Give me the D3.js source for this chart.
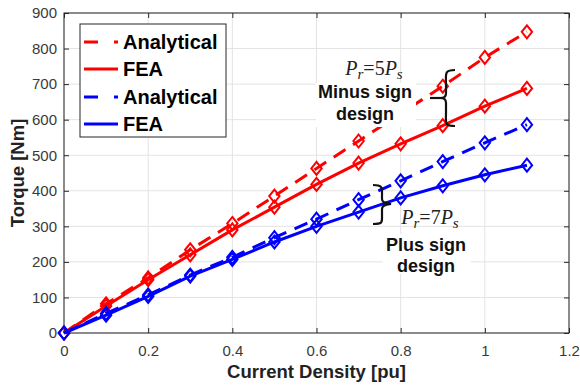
<!DOCTYPE html>
<html><head><meta charset="utf-8">
<script src="https://cdn.jsdelivr.net/npm/d3@7"></script>
<style>body{margin:0;background:#fff;}svg{display:block;}</style>
</head><body>
<svg id="c" width="580" height="385"></svg>
<script>
const xVals = [0, 0.1, 0.2, 0.3, 0.4, 0.5, 0.6, 0.7, 0.8, 0.9, 1.0, 1.1];
const redAnalytical = [0, 82, 155, 234, 308, 385, 463, 540, 617, 694, 775, 847];
const redFEA = [0, 76, 150, 220, 290, 354, 418, 478, 532, 583, 638, 688];
const blueAnalytical = [0, 55, 107, 163, 213, 268, 320, 375, 428, 482, 535, 586];
const blueFEA = [0, 50, 103, 160, 207, 256, 300, 340, 380, 414, 445, 472];
const xTicks = [0, 0.2, 0.4, 0.6, 0.8, 1, 1.2];
const yTicks = [0, 100, 200, 300, 400, 500, 600, 700, 800, 900];
const legendLabels = ["Analytical", "FEA", "Analytical", "FEA"];

const svg = d3.select("#c");
const L = 64, R = 569, T = 13, B = 333;
const x = d3.scaleLinear().domain([0, 1.2]).range([L, R]);
const y = d3.scaleLinear().domain([0, 900]).range([B, T]);
const axisCol = "#262626";

// grid
const g = svg.append("g");
g.selectAll(".gx").data(xTicks).enter().append("line")
  .attr("x1", d => x(d)).attr("x2", d => x(d)).attr("y1", T).attr("y2", B)
  .attr("stroke", "#e3e3e3").attr("stroke-width", 1);
g.selectAll(".gy").data(yTicks).enter().append("line")
  .attr("x1", L).attr("x2", R).attr("y1", d => y(d)).attr("y2", d => y(d))
  .attr("stroke", "#e3e3e3").attr("stroke-width", 1);

// axes
const ax = svg.append("g").attr("transform", `translate(0,${B})`)
  .call(d3.axisBottom(x).tickValues(xTicks).tickFormat(d => String(d)).tickSizeInner(-5).tickSizeOuter(0).tickPadding(12));
const ay = svg.append("g").attr("transform", `translate(${L},0)`)
  .call(d3.axisLeft(y).tickValues(yTicks).tickSizeInner(-5).tickSizeOuter(0).tickPadding(7));
const axTop = svg.append("g").attr("transform", `translate(0,${T})`)
  .call(d3.axisTop(x).tickValues(xTicks).tickFormat("").tickSizeInner(-5).tickSizeOuter(0));
const ayR = svg.append("g").attr("transform", `translate(${R},0)`)
  .call(d3.axisRight(y).tickValues(yTicks).tickFormat("").tickSizeInner(-5).tickSizeOuter(0));
[ax, ay, axTop, ayR].forEach(a => {
  a.select(".domain").remove();
  a.selectAll("line").attr("stroke", axisCol);
  a.selectAll("text").attr("fill", "#3a3a3a").style("font-family", "Liberation Sans, Arial, sans-serif").style("font-size", "15px");
});
svg.append("rect").attr("x", L).attr("y", T).attr("width", R - L).attr("height", B - T)
  .attr("fill", "none").attr("stroke", axisCol).attr("stroke-width", 1);

// series
const series = [
  {vals: redAnalytical, color: "#ff0000", dash: "14,9"},
  {vals: redFEA, color: "#ff0000", dash: null},
  {vals: blueAnalytical, color: "#0000ff", dash: "14,9"},
  {vals: blueFEA, color: "#0000ff", dash: null}
];
const line = d3.line().x(d => x(d[0])).y(d => y(d[1]));
const diamond = (cx, cy, s) => `M${cx},${cy - s}L${cx + s * 0.8},${cy}L${cx},${cy + s}L${cx - s * 0.8},${cy}Z`;
series.forEach(s => {
  const pts = xVals.map((xv, i) => [xv, s.vals[i]]);
  svg.append("path").attr("d", line(pts)).attr("fill", "none")
    .attr("stroke", s.color).attr("stroke-width", 3)
    .attr("stroke-dasharray", s.dash);
  svg.append("g").selectAll("path").data(pts).enter().append("path")
    .attr("d", d => diamond(x(d[0]), y(d[1]), 6.5))
    .attr("fill", "none").attr("stroke", s.color).attr("stroke-width", 2);
});

// axis labels
svg.append("text").attr("x", (L + R) / 2).attr("y", 378).attr("text-anchor", "middle")
  .style("font-family", "Liberation Sans, Arial, sans-serif").style("font-weight", "bold").style("font-size", "18.5px")
  .attr("fill", "#222").text("Current Density [pu]");
svg.append("text").attr("transform", `translate(24,${(T + B) / 2}) rotate(-90)`).attr("text-anchor", "middle")
  .style("font-family", "Liberation Sans, Arial, sans-serif").style("font-weight", "bold").style("font-size", "18.5px")
  .attr("fill", "#222").text("Torque [Nm]");

// legend
const lg = svg.append("g");
lg.append("rect").attr("x", 80).attr("y", 24).attr("width", 146).attr("height", 113)
  .attr("fill", "#fff").attr("stroke", axisCol).attr("stroke-width", 1);
const rowsY = [42, 69, 97, 124];
series.forEach((s, i) => {
  lg.append("line").attr("x1", 84).attr("x2", 118).attr("y1", rowsY[i]).attr("y2", rowsY[i])
    .attr("stroke", s.color).attr("stroke-width", 3).attr("stroke-dasharray", s.dash ? "14,16" : null);
  lg.append("text").attr("x", 123).attr("y", rowsY[i] + 7)
    .style("font-family", "Liberation Sans, Arial, sans-serif").style("font-weight", "bold").style("font-size", "20px")
    .attr("fill", "#000").text(legendLabels[i]);
});

// annotations
function bold(txt, cx, by) {
  return svg.append("text").attr("x", cx).attr("y", by).attr("text-anchor", "middle")
    .style("font-family", "Liberation Sans, Arial, sans-serif").style("font-weight", "bold").style("font-size", "18px")
    .attr("fill", "#111").text(txt);
}
function bgBox(x0, y0, w, h) {
  svg.append("rect").attr("x", x0).attr("y", y0).attr("width", w).attr("height", h).attr("fill", "#fff");
}
function pr(num, cx, by) {
  const t = svg.append("text").attr("x", cx).attr("y", by).attr("text-anchor", "middle")
    .style("font-family", "Liberation Serif, DejaVu Serif, serif").style("font-size", "20px").attr("fill", "#222");
  t.append("tspan").style("font-style", "italic").text("P");
  t.append("tspan").style("font-style", "italic").style("font-size", "15px").attr("dy", 4).text("r");
  t.append("tspan").attr("dy", -4).text("=" + num);
  t.append("tspan").style("font-style", "italic").text("P");
  t.append("tspan").style("font-style", "italic").style("font-size", "15px").attr("dy", 4).text("s");
}
// minus sign design
bgBox(316, 83, 100, 44);
bold("Minus sign", 365, 98);
bold("design", 365, 120);
pr(5, 374, 75);
svg.append("path").attr("d", "M455,70 C444,70 446,74 446,84 L446,93 C446,97 444,98 441,98 C444,98 446,99 446,103 L446,113 C446,123 444,126 455,126")
  .attr("fill", "none").attr("stroke", "#111").attr("stroke-width", 2.2);
svg.append("line").attr("x1", 430).attr("x2", 443).attr("y1", 98).attr("y2", 98).attr("stroke", "#111").attr("stroke-width", 2.2);
// plus sign design
bgBox(383, 234, 88, 40);
bold("Plus sign", 426, 251);
bold("design", 426, 272);
pr(7, 430, 224);
svg.append("path").attr("d", "M373,185 C383,185 382,188 382,195 L382,199 C382,202 384,203 391,204 C384,205 382,206 382,209 L382,216 C382,222 383,224 373,224")
  .attr("fill", "none").attr("stroke", "#111").attr("stroke-width", 2.2);
</script>
</body></html>
